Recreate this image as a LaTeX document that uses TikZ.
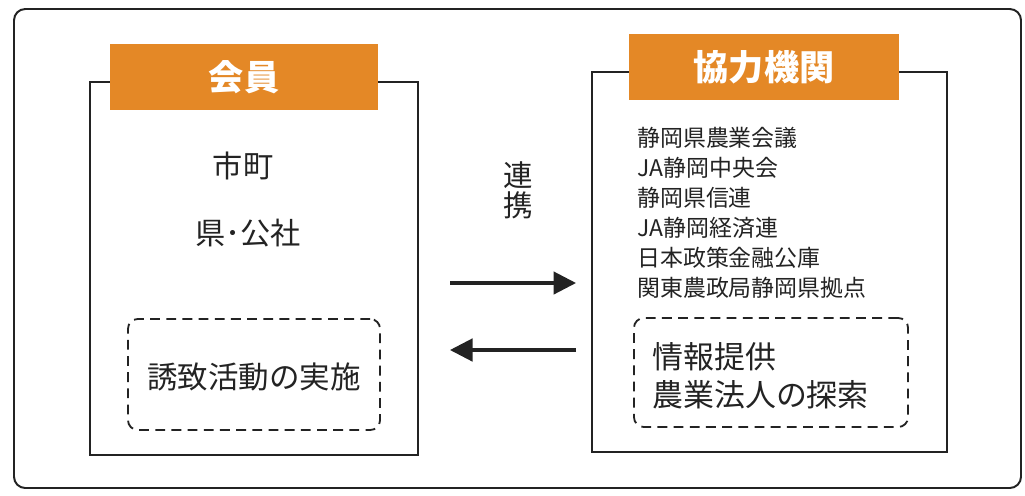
\documentclass[tikz,border=0pt]{standalone}
\usepackage{fontspec}
\setmainfont{Noto Sans CJK JP}
\usetikzlibrary{arrows.meta}
\definecolor{hdrorange}{RGB}{228,136,38}
\definecolor{inkgray}{RGB}{35,35,35}

\tikzset{
  box/.style={draw=inkgray, line width=0.9pt, inner sep=0pt},
  hdr/.style={fill=hdrorange, text=white, inner sep=0pt, font=\fontsize{25}{30}\selectfont\bfseries},
  dbox/.style={draw=inkgray, line width=1.3pt, dash pattern=on 7pt off 4.5pt, rounded corners=7pt, inner sep=0pt},
  arr/.style={draw=inkgray, line width=2.2pt, -{Triangle[length=16pt,width=16pt]}}
}

\begin{document}
\begin{tikzpicture}[x=0.025cm, y=-0.025cm, text=inkgray]
        \useasboundingbox (0,0) rectangle (1025,495);
        \draw[inkgray, line width=1.4pt, rounded corners=8pt] (14,9) rectangle (1021,488);
        % left side
        \node[box, minimum width=8.2cm, minimum height=9.325cm] (member) at (254,268.5) {};
        \node[hdr, minimum width=6.7cm, minimum height=1.65cm] (memberhdr) at (244,77) {会員};
        \node[font=\fontsize{21.5}{25}\selectfont] (city) at (243,166) {市町};
        \node[font=\fontsize{21.5}{25}\selectfont] (pref) at (248,233) {県･公社};
        \node[dbox, minimum width=6.3cm, minimum height=2.775cm] (invite) at (254,374.5) {};
        \node[font=\fontsize{21.7}{25}\selectfont] (invitetxt) at (254,377) {誘致活動の実施};
        % right side
        \node[box, minimum width=8.875cm, minimum height=9.5cm] (partner) at (769.5,262) {};
        \node[hdr, minimum width=6.75cm, minimum height=1.65cm] (partnerhdr) at (764,67) {協力機関};
        \node[anchor=north west, inner sep=0pt, align=left, font=\fontsize{16.3}{21.3}\selectfont] (orglist) at (637,127)
          {静岡県農業会議\\JA静岡中央会\\静岡県信連\\JA静岡経済連\\日本政策金融公庫\\関東農政局静岡県拠点};
        \node[dbox, minimum width=6.85cm, minimum height=2.725cm] (info) at (771,372.5) {};
        \node[anchor=west, inner sep=0pt, align=left, font=\fontsize{22}{27}\selectfont] (infotxt) at (652,376)
          {情報提供\\農業法人の探索};
        % middle
        \node[align=center, inner sep=0pt, font=\fontsize{21}{21.3}\selectfont] (link) at (518,190) {連\\携};
        \coordinate (toR1) at (450,283);
        \coordinate (toR2) at (576,283);
        \coordinate (toL1) at (576,350);
        \coordinate (toL2) at (450,350);
        \draw[arr] (toR1) -- (toR2);
        \draw[arr] (toL1) -- (toL2);
    \end{tikzpicture}
\end{document}
